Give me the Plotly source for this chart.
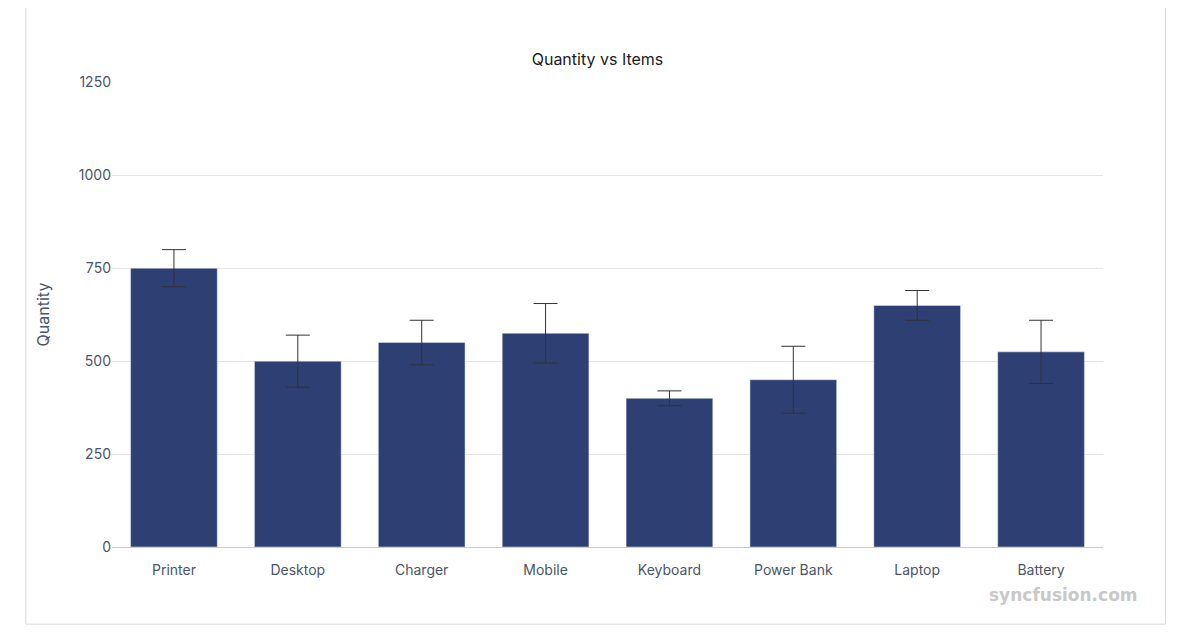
import plotly.graph_objects as go

items = ["Printer", "Desktop", "Charger", "Mobile", "Keyboard", "Power Bank", "Laptop", "Battery"]
quantity = [750, 500, 550, 575, 400, 450, 650, 525]
error_plus = [50, 70, 60, 80, 20, 90, 40, 85]
error_minus = [50, 70, 60, 80, 20, 90, 40, 85]
y_ticks = [0, 250, 500, 750, 1000, 1250]

fig = go.Figure(go.Bar(
    x=items, y=quantity, marker_color="#2e3f73", width=0.7,
    error_y=dict(type="data", array=error_plus, arrayminus=error_minus,
                 color="#333333", thickness=1, width=12),
))
fig.update_layout(
    width=1179, height=643,
    margin=dict(l=104, r=84, t=74, b=104),
    paper_bgcolor="white", plot_bgcolor="white",
    font=dict(family="Inter", size=14, color="#4a5568"),
    title=dict(text="Quantity vs Items", x=0.5, xanchor="center", y=0.92, yanchor="middle",
               font=dict(family="Inter", size=16, color="#1c1b1f")),
    showlegend=False, bargap=0.3,
    xaxis=dict(showgrid=False, showline=True, linecolor="#cccccc", ticks="outside",
               ticklen=10, tickcolor="rgba(0,0,0,0)", tickfont=dict(size=14)),
    yaxis=dict(range=[0, 1251], tickvals=y_ticks, gridcolor="#e5e5e5", zeroline=False,
               title=dict(text="Quantity", font=dict(size=16), standoff=25), ticks="",
               tickfont=dict(size=14)),
    shapes=[dict(type="rect", xref="paper", yref="paper", x0=-0.087, x1=1.063, y0=-0.166, y1=1.162,
                 line=dict(color="#d9d9d9", width=1))],
    annotations=[dict(text="<b>syncfusion.com</b>", xref="paper", yref="paper", x=1.037, y=-0.103,
                      xanchor="right", yanchor="middle", showarrow=False,
                      font=dict(family="DejaVu Sans", size=17, color="#c8c8c8"))],
)
fig.write_html("out.html")
